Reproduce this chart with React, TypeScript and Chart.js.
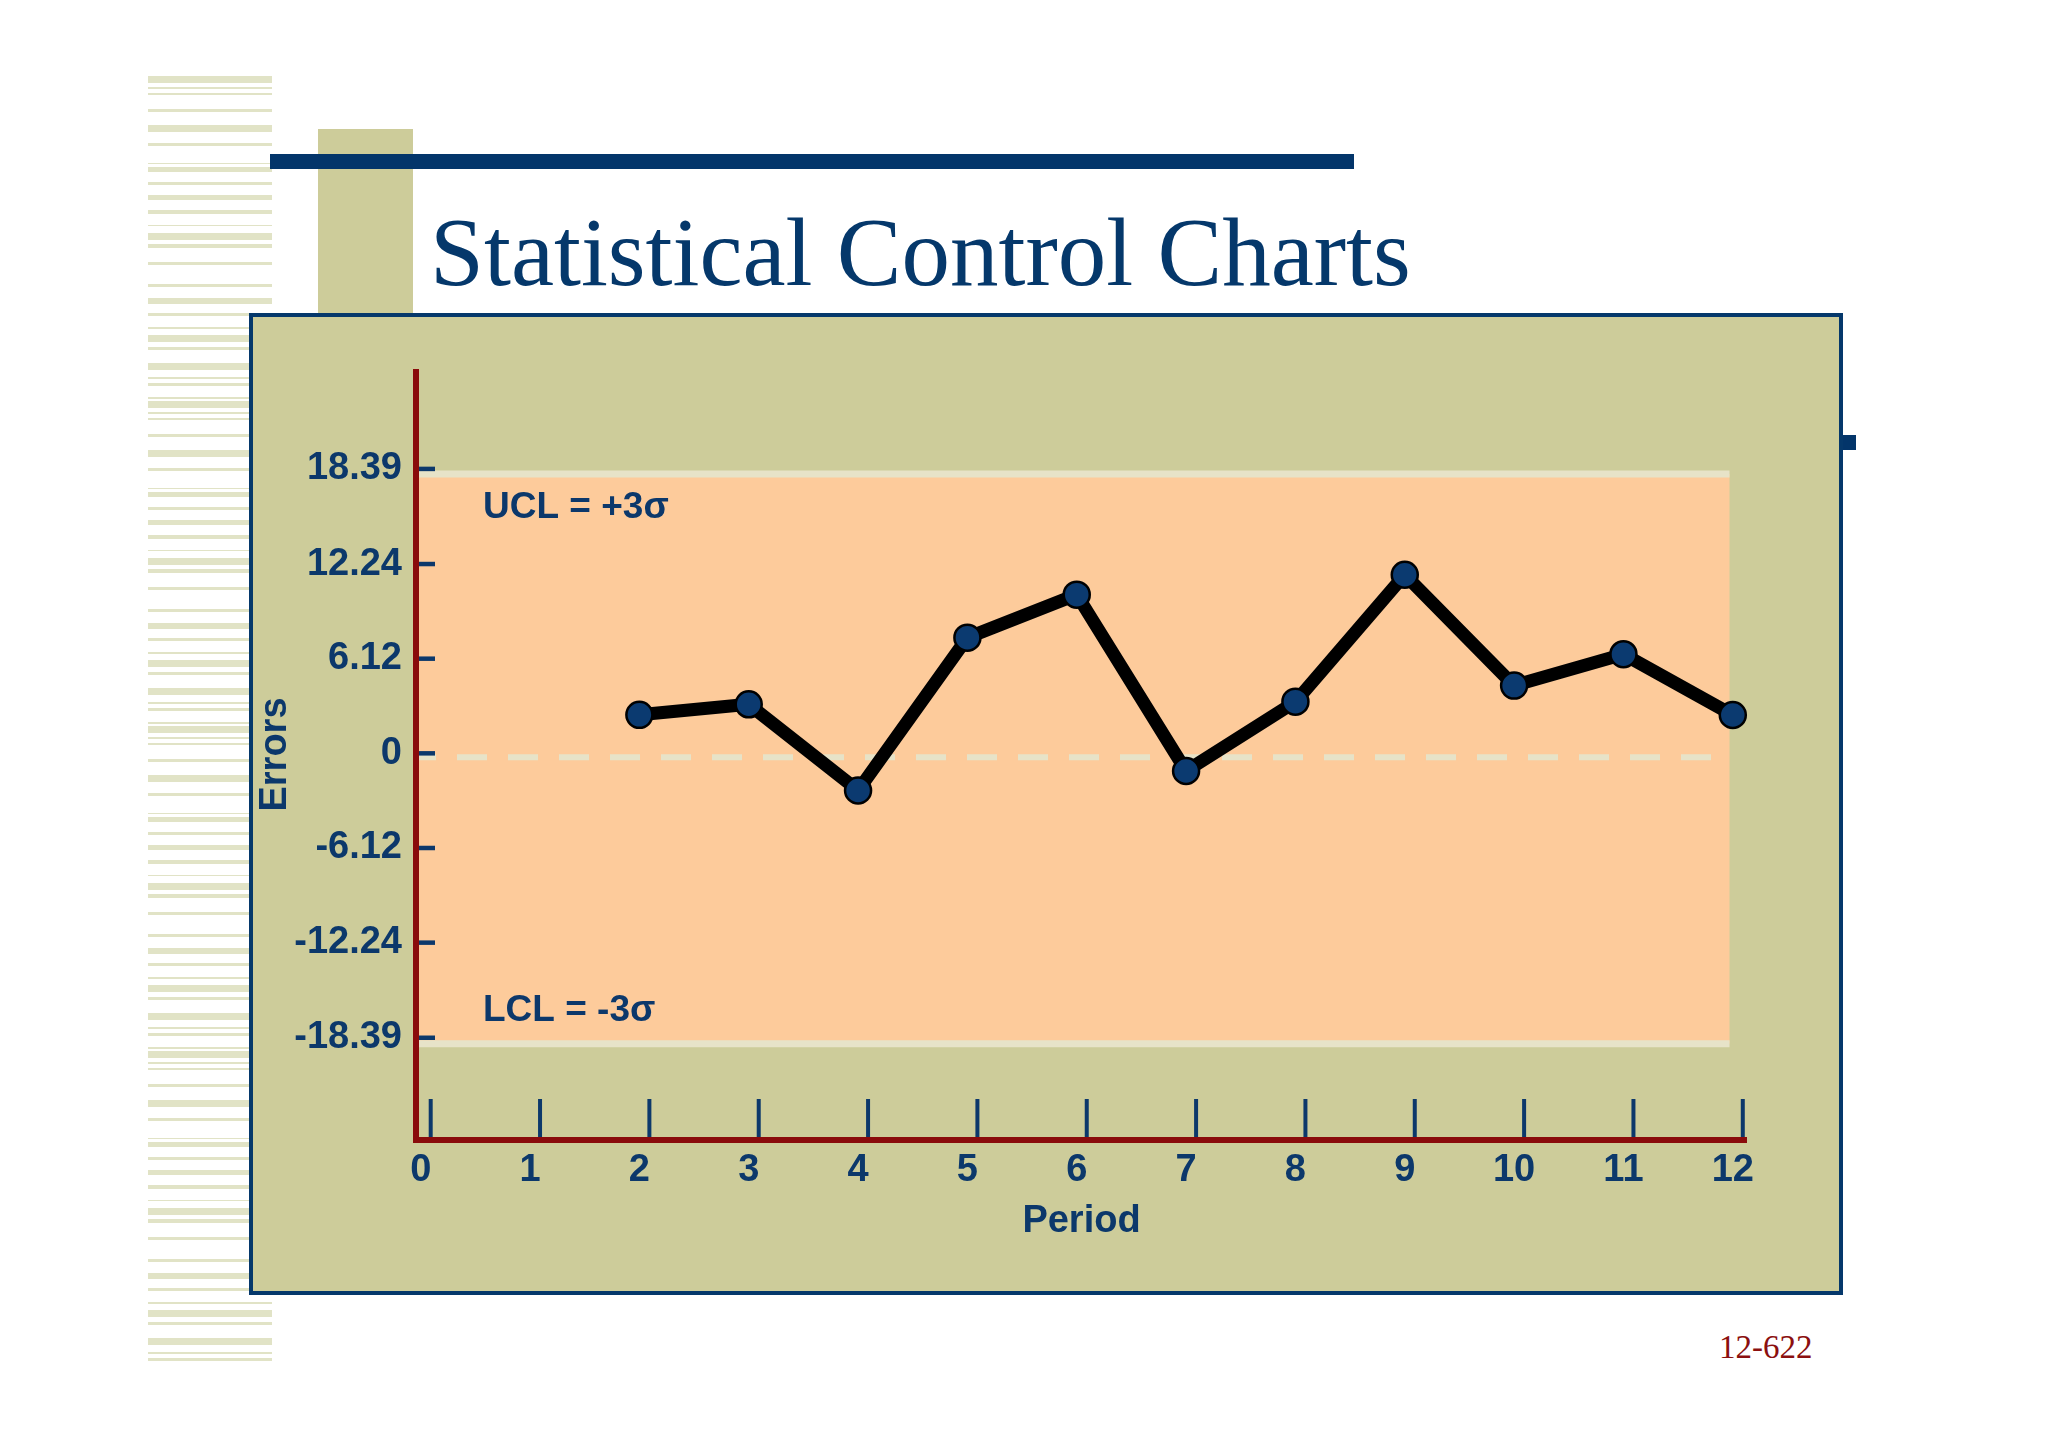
import { useEffect, useRef } from 'react';
import { Chart, registerables } from 'chart.js';

Chart.register(...registerables);

// --- data ---
const periods = [2, 3, 4, 5, 6, 7, 8, 9, 10, 11, 12];
const errors = [2.49, 3.17, -2.4, 7.48, 10.26, -1.14, 3.34, 11.55, 4.38, 6.41, 2.48];
const xTickValues = [0, 1, 2, 3, 4, 5, 6, 7, 8, 9, 10, 11, 12];
const yTickValues = [-18.39, -12.24, -6.12, 0, 6.12, 12.24, 18.39];
const yTickLabels = ['-18.39', '-12.24', '-6.12', '0', '6.12', '12.24', '18.39'];
const UCL = 18.39;
const LCL = -18.39;
const CENTER = 0;

const NAVY = '#0c386b';
const DARK_RED = '#8a0b0b';
const KHAKI = '#cdcc9a';
const ORANGE = '#fdcb9b';
const LIMIT = '#e7e3c8';
const STRIPE = '#e1e3c6';
const SANS = '"Liberation Sans", Arial, sans-serif';
const SERIF = '"Liberation Serif", "Times New Roman", serif';

// one repeat of the striped strip on the left edge: [offset, height]
const stripePattern = [
    [0, 7], [11, 2], [17, 2], [33, 3], [49, 7], [67, 3], [87, 1], [91, 5], [106, 3],
    [119, 5], [134, 4], [149, 1], [157, 7], [168, 4], [186, 3], [208, 3], [222, 6],
    [237, 3], [251, 2], [259, 7], [271, 3], [287, 7], [301, 2], [307, 3], [321, 2],
];

const controlPlugin = {
    id: 'controlBand',
    beforeDatasetsDraw(chart: any) {
        const { ctx, chartArea: a, scales } = chart;
        const x = scales.x;
        const y = scales.y;
        const left = a.left;
        const right = x.getPixelForValue(11.97);
        const top = y.getPixelForValue(UCL) + 5;
        const bottom = y.getPixelForValue(LCL) + 6;
        const mid = y.getPixelForValue(CENTER) + 4;

        ctx.save();
        // in-control band
        ctx.fillStyle = ORANGE;
        ctx.fillRect(left, top, right - left, bottom - top);

        // control limits
        ctx.strokeStyle = LIMIT;
        ctx.lineWidth = 7;
        [top, bottom].forEach((py) => {
            ctx.beginPath();
            ctx.moveTo(left, py);
            ctx.lineTo(right, py);
            ctx.stroke();
        });

        // center line
        ctx.lineWidth = 6;
        ctx.setLineDash([30, 21]);
        ctx.lineDashOffset = 12;
        ctx.beginPath();
        ctx.moveTo(left + 2, mid);
        ctx.lineTo(right - 5, mid);
        ctx.stroke();
        ctx.setLineDash([]);

        // limit labels
        ctx.fillStyle = NAVY;
        ctx.font = `bold 37px ${SANS}`;
        ctx.textAlign = 'left';
        ctx.textBaseline = 'alphabetic';
        ctx.fillText('UCL = +3σ', left + 67, y.getPixelForValue(UCL) + 49);
        ctx.fillText('LCL = -3σ', left + 67, y.getPixelForValue(LCL) - 17);

        // inward tick marks
        ctx.strokeStyle = NAVY;
        ctx.lineWidth = 4.5;
        yTickValues.forEach((v) => {
            const py = y.getPixelForValue(v);
            ctx.beginPath();
            ctx.moveTo(left - 2, py);
            ctx.lineTo(left + 19, py);
            ctx.stroke();
        });
        ctx.lineWidth = 4;
        xTickValues.forEach((v) => {
            const px = x.getPixelForValue(v) + 10;
            ctx.beginPath();
            ctx.moveTo(px, a.bottom - 41);
            ctx.lineTo(px, a.bottom - 3);
            ctx.stroke();
        });

        // axis lines
        ctx.strokeStyle = DARK_RED;
        ctx.lineWidth = 6;
        ctx.beginPath();
        ctx.moveTo(left, a.top);
        ctx.lineTo(left, a.bottom + 3);
        ctx.moveTo(left - 3, a.bottom);
        ctx.lineTo(a.right, a.bottom);
        ctx.stroke();
        ctx.restore();
    },
};

function ControlChart() {
    const canvasRef = useRef<HTMLCanvasElement>(null);

    useEffect(() => {
        if (!canvasRef.current) return;
        const tickFont = { family: SANS, size: 38, weight: 'bold' as const };
        const chart = new Chart(canvasRef.current, {
            type: 'line',
            data: {
                datasets: [{
                    label: 'Errors',
                    data: periods.map((p, i) => ({ x: p, y: errors[i] })),
                    borderColor: '#000000',
                    borderWidth: 13,
                    borderJoinStyle: 'round',
                    tension: 0,
                    pointRadius: 13,
                    pointBackgroundColor: '#0b3a70',
                    pointBorderColor: '#000000',
                    pointBorderWidth: 2.5,
                    clip: false,
                }],
            },
            options: {
                animation: false,
                responsive: false,
                events: [],
                layout: { padding: { top: 52, right: 92, left: 0, bottom: 0 } },
                plugins: {
                    legend: { display: false },
                    tooltip: { enabled: false },
                },
                scales: {
                    x: {
                        type: 'linear',
                        min: -0.043,
                        max: 12.13,
                        afterBuildTicks: (s: any) => { s.ticks = xTickValues.map((v) => ({ value: v })); },
                        afterFit: (s: any) => { s.height = 151; },
                        grid: { display: false, drawTicks: false },
                        border: { display: false },
                        ticks: {
                            autoSkip: false,
                            maxRotation: 0,
                            padding: 8,
                            color: NAVY,
                            font: tickFont,
                            callback: (v: any) => String(v),
                        },
                        title: {
                            display: true,
                            text: 'Period',
                            color: NAVY,
                            font: tickFont,
                            padding: { top: 0, bottom: 47 },
                        },
                    },
                    y: {
                        type: 'linear',
                        min: -25,
                        max: 24.85,
                        afterBuildTicks: (s: any) => { s.ticks = yTickValues.map((v) => ({ value: v })); },
                        afterFit: (s: any) => { s.width = 163; },
                        grid: { display: false, drawTicks: false },
                        border: { display: false },
                        ticks: {
                            autoSkip: false,
                            padding: 14,
                            color: NAVY,
                            font: tickFont,
                            callback: (_v: any, i: number) => yTickLabels[i],
                        },
                        title: {
                            display: true,
                            text: 'Errors',
                            color: NAVY,
                            font: tickFont,
                            padding: 0,
                        },
                    },
                },
            },
            plugins: [controlPlugin],
        });
        return () => chart.destroy();
    }, []);

    return <canvas ref={canvasRef} width={1586} height={974} style={{ position: 'absolute', left: 0, top: 0, width: 1586, height: 974 }} />;
}

export default function App() {
    const stripes: { top: number; height: number }[] = [];
    for (let r = 0; r < 4; r++) {
        stripePattern.forEach(([off, h]) => {
            const top = 76 + r * 325 + off;
            if (top < 1368) stripes.push({ top, height: h });
        });
    }

    return (
        <div style={{ position: 'absolute', left: 0, top: 0, width: 2048, height: 1447, background: '#ffffff', overflow: 'hidden' }}>
            {stripes.map((s, i) => (
                <div key={i} style={{ position: 'absolute', left: 148, width: 124, top: s.top, height: s.height, background: STRIPE }} />
            ))}
            <div style={{ position: 'absolute', left: 318, top: 129, width: 95, height: 200, background: KHAKI }} />
            <div style={{ position: 'absolute', left: 270, top: 154, width: 1084, height: 15, background: '#03356a' }} />
            <div style={{ position: 'absolute', left: 1750, top: 435, width: 106, height: 15, background: '#03356a' }} />
            <div style={{ position: 'absolute', left: 430, top: 204, fontFamily: SERIF, fontSize: 97, lineHeight: '97px', color: '#05386b', whiteSpace: 'nowrap' }}>
                Statistical Control Charts
            </div>
            <div style={{ position: 'absolute', left: 249, top: 313, width: 1594, height: 982, boxSizing: 'border-box', border: '4px solid #05386b', background: KHAKI }}>
                <ControlChart />
            </div>
            <div style={{ position: 'absolute', left: 1719, top: 1331, fontFamily: SERIF, fontSize: 33, lineHeight: '33px', color: '#8b0f0f', whiteSpace: 'nowrap' }}>
                12-622
            </div>
        </div>
    );
}
